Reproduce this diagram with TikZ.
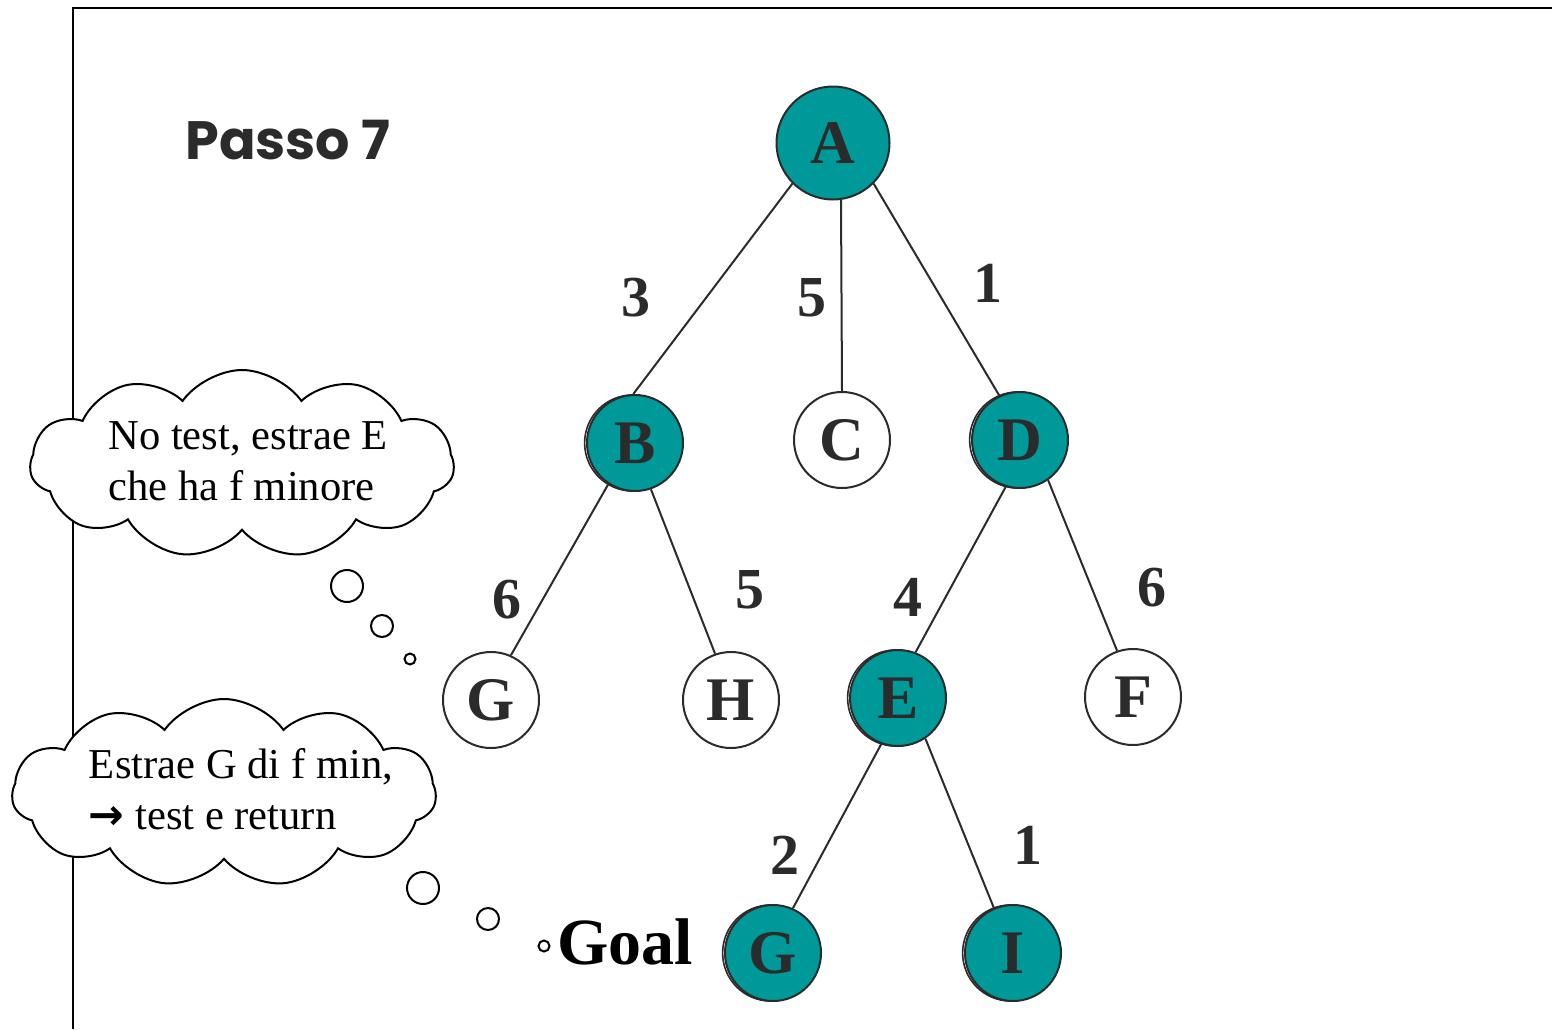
\documentclass[tikz,border=0pt]{standalone}
\usepackage{fontspec}
\setmainfont{Liberation Serif}
\newfontfamily\headfont{Poppins}
\newfontfamily\arrowfont{DejaVu Sans}
\usetikzlibrary{shapes.symbols, shadows}

\definecolor{tealfill}{RGB}{0,153,153}
\definecolor{ink}{RGB}{43,43,43}

\tikzset{
  state/.style={circle, draw=ink, line width=1pt, fill=white, minimum size=48pt, inner sep=0pt,
    text=ink, font=\fontsize{31}{31}\selectfont\bfseries},
  visited/.style={state, fill=tealfill,
    copy shadow={shadow xshift=-1.2pt, shadow yshift=0pt, draw=ink, fill=white, line width=0.8pt}},
  weight/.style={text=ink, inner sep=0pt, font=\fontsize{29}{29}\selectfont\bfseries},
  branch/.style={draw=ink, line width=1pt},
  thought/.style={cloud, cloud puffs=11, cloud puff arc=110, cloud ignores aspect,
    draw=black, fill=white, line width=1pt, minimum width=212pt, minimum height=94pt},
  thoughttext/.style={align=left, inner sep=0pt, font=\fontsize{21.3}{25.5}\selectfont},
  puff/.style={circle, draw=black, fill=white, line width=1pt, inner sep=0pt}
}

\begin{document}
\begin{tikzpicture}[x=0.5pt,y=-0.5pt]
  \useasboundingbox (0,0) rectangle (1552,1029);
  % frame
  \draw[line width=1pt] (73,1029) -- (73,8) -- (1552,8);

  % title
  \node[text=ink, font=\headfont\fontsize{27}{27}\selectfont\bfseries] (title) at (288,140) {Passo 7};

  % tree nodes
  \node[state, fill=tealfill, minimum size=56.5pt] (A) at (833,143) {A};
  \node[visited] (B) at (635,443) {B};
  \node[state] (C) at (842,440) {C};
  \node[visited] (D) at (1020,440) {D};
  \node[state] (G) at (491,700) {G};
  \node[state] (H) at (731,700) {H};
  \node[visited] (E) at (898,698) {E};
  \node[state] (F) at (1133,697) {F};
  \node[visited] (G2) at (773,953) {G};
  \node[visited] (I) at (1013,953) {I};

  % branches
  \draw[branch] (A.225) -- (B.92);
  \draw[branch] (A.-82) -- (C.north);
  \draw[branch] (A.-45) -- (D.115);
  \draw[branch] (B.237) -- (G.66);
  \draw[branch] (B.289) -- (H.109);
  \draw[branch] (D.253) -- (E.69);
  \draw[branch] (D.305) -- (F.109);
  \draw[branch] (E.250) -- (G2.66);
  \draw[branch] (E.304) -- (I.113);

  % costs
  \node[weight] (wAB) at (636,298) {3};
  \node[weight] (wAC) at (812,298) {5};
  \node[weight] (wAD) at (988,283) {1};
  \node[weight] (wBG) at (507,600) {6};
  \node[weight] (wBH) at (750,590) {5};
  \node[weight] (wDE) at (908,597) {4};
  \node[weight] (wDF) at (1152,588) {6};
  \node[weight] (wEG) at (785,855) {2};
  \node[weight] (wEI) at (1028,845) {1};

  % thoughts
  \node[thought] (think1) at (242,464) {};
  \node[thoughttext] (say1) at (248,461) {No test, estrae E\\che ha f minore};
  \node[puff, minimum size=16pt] (p11) at (347,586) {};
  \node[puff, minimum size=11pt] (p12) at (382,626) {};
  \node[puff, minimum size=5.5pt] (p13) at (410,659) {};

  \node[thought] (think2) at (224,793) {};
  \node[thoughttext] (say2) at (241,789) {Estrae G di f min,\\{\arrowfont\bfseries →} test e return};
  \node[puff, minimum size=16pt] (p21) at (423,888) {};
  \node[puff, minimum size=11pt] (p22) at (488,919) {};
  \node[puff, minimum size=5.5pt] (p23) at (544,946) {};

  \node[font=\fontsize{33}{33}\selectfont\bfseries] (goal) at (625,942) {Goal};
\end{tikzpicture}
\end{document}
